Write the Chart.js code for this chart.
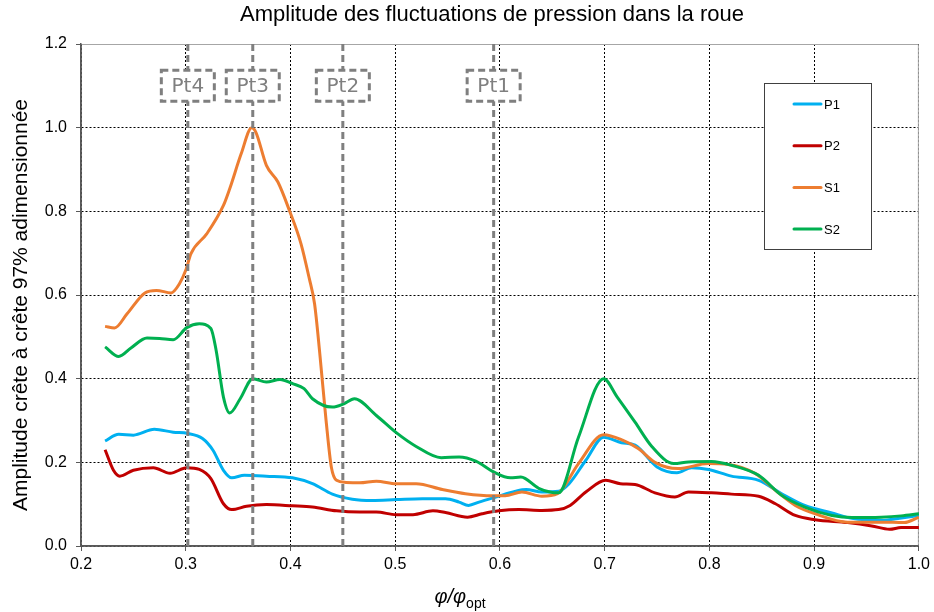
<!DOCTYPE html>
<html>
<head>
<meta charset="utf-8">
<script src="https://cdn.jsdelivr.net/npm/chart.js@4/dist/chart.umd.min.js"></script>
<style>
  html, body { margin: 0; padding: 0; background: #fff; }
  #wrap { width: 934px; height: 612px; position: relative; }
</style>
</head>
<body>
<div id="wrap"><canvas id="chart"></canvas></div>
<script>
// values
const p1X = [0.223,0.236,0.250,0.270,0.288,0.302,0.316,0.326,0.336,0.344,0.356,0.377,0.402,0.421,0.440,0.459,0.478,0.501,0.526,0.548,0.561,0.570,0.580,0.596,0.615,0.625,0.640,0.656,0.666,0.682,0.699,0.716,0.729,0.750,0.769,0.783,0.799,0.821,0.847,0.869,0.891,0.917,0.936,0.964,0.980,1.0]
const p1Y = [0.251,0.267,0.265,0.279,0.272,0.269,0.257,0.229,0.181,0.163,0.169,0.167,0.163,0.149,0.124,0.112,0.109,0.111,0.113,0.113,0.105,0.097,0.105,0.117,0.131,0.135,0.129,0.131,0.149,0.205,0.260,0.247,0.241,0.189,0.175,0.187,0.183,0.167,0.157,0.125,0.097,0.079,0.066,0.061,0.066,0.073]

const p2X = [0.223,0.231,0.237,0.250,0.269,0.285,0.301,0.313,0.324,0.336,0.344,0.358,0.377,0.402,0.421,0.444,0.466,0.482,0.501,0.517,0.536,0.548,0.569,0.583,0.599,0.618,0.640,0.656,0.667,0.682,0.701,0.715,0.729,0.748,0.767,0.780,0.802,0.821,0.847,0.863,0.882,0.901,0.932,0.955,0.972,0.983,1.0]
const p2Y = [0.230,0.181,0.167,0.181,0.187,0.174,0.187,0.183,0.161,0.101,0.087,0.095,0.099,0.096,0.093,0.084,0.081,0.081,0.075,0.075,0.084,0.080,0.069,0.077,0.084,0.087,0.085,0.087,0.097,0.129,0.157,0.149,0.147,0.127,0.117,0.129,0.127,0.124,0.119,0.101,0.073,0.063,0.056,0.048,0.040,0.044,0.044]

const s1X = [0.223,0.232,0.244,0.261,0.272,0.286,0.294,0.300,0.305,0.320,0.336,0.342,0.353,0.363,0.367,0.377,0.388,0.399,0.410,0.418,0.423,0.428,0.434,0.439,0.444,0.453,0.466,0.482,0.501,0.520,0.545,0.567,0.593,0.605,0.621,0.640,0.655,0.675,0.699,0.717,0.732,0.748,0.770,0.799,0.818,0.844,0.863,0.882,0.901,0.932,0.964,0.986,1.0]
const s1Y = [0.525,0.521,0.555,0.605,0.611,0.605,0.627,0.659,0.699,0.746,0.814,0.854,0.938,1.0,0.989,0.910,0.870,0.802,0.723,0.639,0.579,0.460,0.300,0.189,0.157,0.152,0.151,0.155,0.149,0.149,0.135,0.125,0.120,0.120,0.129,0.119,0.125,0.197,0.266,0.253,0.233,0.200,0.185,0.197,0.195,0.173,0.133,0.097,0.077,0.057,0.057,0.056,0.069]

const s2X = [0.223,0.236,0.248,0.263,0.275,0.288,0.301,0.313,0.324,0.329,0.336,0.342,0.352,0.364,0.377,0.390,0.402,0.413,0.421,0.440,0.451,0.461,0.482,0.501,0.520,0.544,0.561,0.577,0.594,0.610,0.620,0.637,0.656,0.675,0.699,0.712,0.729,0.745,0.766,0.780,0.802,0.821,0.847,0.869,0.891,0.917,0.936,0.964,0.983,1.0]
const s2Y = [0.476,0.453,0.474,0.497,0.496,0.493,0.522,0.531,0.520,0.468,0.356,0.318,0.352,0.400,0.392,0.398,0.388,0.376,0.352,0.332,0.340,0.352,0.312,0.271,0.238,0.211,0.213,0.203,0.177,0.163,0.165,0.138,0.127,0.260,0.400,0.356,0.296,0.238,0.197,0.201,0.202,0.193,0.169,0.121,0.093,0.073,0.068,0.069,0.072,0.077]

const markerX = [0.302, 0.364, 0.450, 0.594]
const markerLabels = ["Pt4", "Pt3", "Pt2", "Pt1"]
const markerLabelY = 1.1

const xTicks = [0.2, 0.3, 0.4, 0.5, 0.6, 0.7, 0.8, 0.9, 1.0]
const yTicks = [0.0, 0.2, 0.4, 0.6, 0.8, 1.0, 1.2]

const FONT = "'Liberation Sans', Arial, sans-serif"
const GREY = "#7f7f7f"

const toPoints = (xs, ys) => xs.map((x, i) => ({x, y: ys[i]}))

const series = [
  {label: "P1", xs: p1X, ys: p1Y, color: "#00b0f0", order: 3},
  {label: "P2", xs: p2X, ys: p2Y, color: "#c00000", order: 4},
  {label: "S1", xs: s1X, ys: s1Y, color: "#ed7d31", order: 2},
  {label: "S2", xs: s2X, ys: s2Y, color: "#00b050", order: 1}
]

const lineSets = series.map(s => ({
  label: s.label,
  data: toPoints(s.xs, s.ys),
  borderColor: s.color,
  backgroundColor: s.color,
  borderWidth: 3,
  pointRadius: 0,
  cubicInterpolationMode: "monotone",
  order: s.order
}))

const markerSets = markerX.map((x, i) => ({
  label: markerLabels[i],
  data: [{x, y: 0}, {x, y: 1.2}],
  borderColor: GREY,
  borderWidth: 3,
  borderDash: [7, 4],
  pointRadius: 0,
  tension: 0,
  order: 0
}))

const axisOpts = (ticks, fit, padding) => ({
  afterBuildTicks: (scale) => { scale.ticks = ticks.map(v => ({value: v})) },
  afterFit: fit,
  ticks: {
    color: "#000",
    font: {family: FONT, size: 16},
    padding,
    callback: (v) => v.toFixed(1)
  },
  grid: {
    color: "#000",
    lineWidth: 1,
    tickLength: 5,
    tickColor: "#595959",
    tickBorderDash: [],
    tickWidth: 1
  },
  border: {display: true, color: "#595959", width: 1.5, dash: [2, 2]}
})

// plot frame, marker boxes, legend, titles
const decorations = {
  id: "decorations",
  beforeDatasetsDraw(chart) {
    const {ctx, chartArea: a} = chart
    ctx.save()
    ctx.strokeStyle = "#a6a6a6"
    ctx.lineWidth = 1
    ctx.beginPath()
    ctx.moveTo(a.left, a.top + 0.5)
    ctx.lineTo(a.right - 0.5, a.top + 0.5)
    ctx.lineTo(a.right - 0.5, a.bottom)
    ctx.stroke()
    // axis lines solid
    ctx.strokeStyle = "#595959"
    ctx.lineWidth = 1.5
    ctx.beginPath()
    ctx.moveTo(a.left, a.top)
    ctx.lineTo(a.left, a.bottom)
    ctx.lineTo(a.right, a.bottom)
    ctx.stroke()
    ctx.restore()
  },
  afterDatasetsDraw(chart) {
    const {ctx, scales} = chart
    ctx.save()
    ctx.font = "20px 'DejaVu Sans', sans-serif"
    ctx.textAlign = "center"
    ctx.textBaseline = "middle"
    markerX.forEach((x, i) => {
      const cx = scales.x.getPixelForValue(x)
      const cy = scales.y.getPixelForValue(markerLabelY)
      const w = 53, h = 31
      ctx.fillStyle = "#fff"
      ctx.fillRect(cx - w / 2, cy - h / 2, w, h)
      ctx.strokeStyle = GREY
      ctx.lineWidth = 3
      ctx.setLineDash([7, 4])
      ctx.strokeRect(cx - w / 2, cy - h / 2, w, h)
      ctx.setLineDash([])
      ctx.fillStyle = GREY
      ctx.fillText(markerLabels[i], cx, cy + 1)
    })
    ctx.restore()
  },
  afterDraw(chart) {
    const {ctx} = chart
    ctx.save()

    // legend
    const lx = 764, ly = 83, lw = 107, lh = 166
    ctx.fillStyle = "#fff"
    ctx.fillRect(lx, ly, lw, lh)
    ctx.strokeStyle = "#404040"
    ctx.lineWidth = 1
    ctx.strokeRect(lx + 0.5, ly + 0.5, lw, lh)
    ctx.font = "13px " + FONT
    ctx.textAlign = "left"
    ctx.textBaseline = "middle"
    series.forEach((s, i) => {
      const y = 104 + i * 41.7
      ctx.strokeStyle = s.color
      ctx.lineWidth = 3
      ctx.lineCap = "round"
      ctx.beginPath()
      ctx.moveTo(794, y)
      ctx.lineTo(821, y)
      ctx.stroke()
      ctx.fillStyle = "#000"
      ctx.fillText(s.label, 824, y + 1)
    })

    // title
    ctx.fillStyle = "#000"
    ctx.font = "22px " + FONT
    ctx.textAlign = "center"
    ctx.textBaseline = "middle"
    ctx.fillText("Amplitude des fluctuations de pression dans la roue", 492, 15)

    // y axis title
    ctx.save()
    ctx.translate(21, 305)
    ctx.rotate(-Math.PI / 2)
    ctx.font = "21px " + FONT
    ctx.fillText("Amplitude crête à crête 97% adimensionnée", 0, 0)
    ctx.restore()

    // x axis title: φ/φopt
    ctx.font = "italic 20px " + FONT
    ctx.textAlign = "left"
    ctx.textBaseline = "alphabetic"
    const main = "φ/φ"
    const mw = ctx.measureText(main).width
    ctx.font = "14px " + FONT
    const sw = ctx.measureText("opt").width
    const sx = 460 - (mw + sw) / 2
    ctx.font = "italic 20px " + FONT
    ctx.fillText(main, sx, 603)
    ctx.font = "14px " + FONT
    ctx.fillText("opt", sx + mw, 608)

    ctx.restore()
  }
}

new Chart(document.getElementById("chart"), {
  type: "line",
  data: {datasets: [...markerSets, ...lineSets]},
  options: {
    responsive: true,
    maintainAspectRatio: false,
    animation: false,
    layout: {padding: {top: 44, right: 13, left: 0, bottom: 0}},
    plugins: {
      legend: {display: false},
      title: {display: false},
      tooltip: {enabled: false}
    },
    scales: {
      x: {
        type: "linear",
        min: 0.2,
        max: 1.0,
        ...axisOpts(xTicks, (scale) => { scale.height = 66 }, 4)
      },
      y: {
        min: 0,
        max: 1.2,
        ...axisOpts(yTicks, (scale) => { scale.width = 81 }, 9)
      }
    }
  },
  plugins: [decorations]
})
</script>
</body>
</html>
